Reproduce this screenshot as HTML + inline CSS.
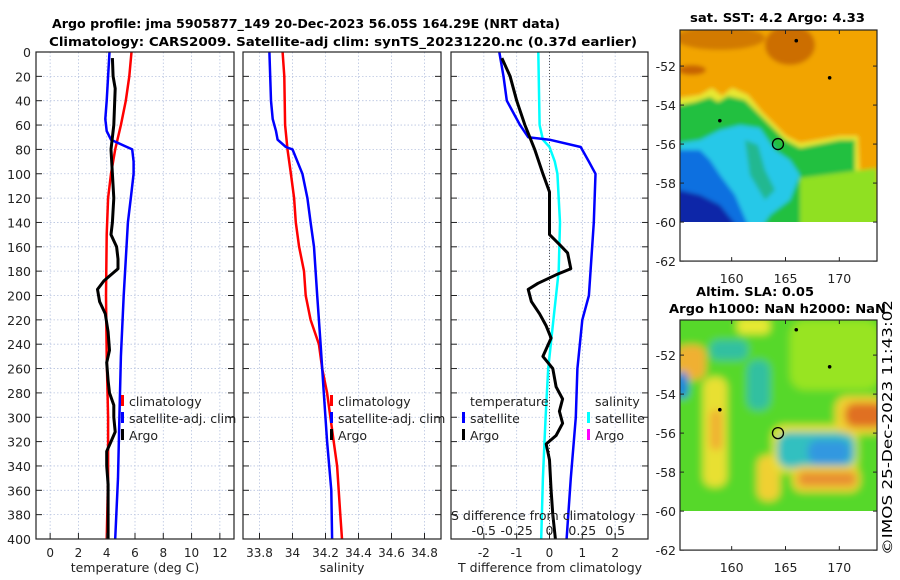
<!DOCTYPE html>
<html><head><meta charset="utf-8"><style>
html,body{margin:0;padding:0;background:#fff;}
svg{display:block;font-family:"DejaVu Sans","Liberation Sans",sans-serif;}
</style></head><body>
<svg id="fig" width="900" height="580" viewBox="0 0 900 580" xmlns="http://www.w3.org/2000/svg">
<defs>
<filter id="blur1" x="-5%" y="-5%" width="110%" height="110%"><feGaussianBlur stdDeviation="2"/></filter>
<filter id="blur2" x="-5%" y="-5%" width="110%" height="110%"><feGaussianBlur stdDeviation="4"/></filter>
<clipPath id="clipm1"><rect x="680" y="30" width="197" height="192"/></clipPath>
<clipPath id="clipm2"><rect x="680" y="320" width="197" height="191"/></clipPath>
</defs>
<text x="52" y="28" font-size="12.5" font-weight="bold" textLength="508" lengthAdjust="spacingAndGlyphs">Argo profile: jma 5905877_149 20-Dec-2023 56.05S 164.29E (NRT data)</text>
<text x="49" y="46" font-size="12.5" font-weight="bold" textLength="588" lengthAdjust="spacingAndGlyphs">Climatology: CARS2009. Satellite-adj clim: synTS_20231220.nc (0.37d earlier)</text>

<!-- map 1 -->
<text x="690" y="22" font-size="12.5" font-weight="bold" textLength="175" lengthAdjust="spacingAndGlyphs">sat. SST: 4.2 Argo: 4.33</text>
<g clip-path="url(#clipm1)">
<g filter="url(#blur1)">
<rect x="670" y="20" width="220" height="210" fill="#f2a400"/>
<ellipse cx="720" cy="38" rx="45" ry="12" fill="#d27a00"/>
<ellipse cx="790" cy="45" rx="25" ry="20" fill="#cc6e00"/>
<ellipse cx="692" cy="70" rx="14" ry="5" fill="#c86400"/>
<path d="M680,98 L700,95 L712,88 L722,96 L732,88 L748,95 L762,112 L772,122 L786,136 L800,143 L840,136 L858,136 L860,178 L832,198 L800,204 L800,230 L670,230 L670,98Z" fill="#e8e830"/>
<path d="M680,105 L695,102 L710,97 L718,102 L728,96 L745,100 L760,115 L770,125 L785,140 L800,148 L840,140 L855,140 L855,175 L830,195 L800,200 L800,230 L670,230 L670,105Z" fill="#20c040"/>
<path d="M800,178 L877,168 L880,230 L800,230Z" fill="#90e020"/>
<path d="M680,143 L700,140 L720,130 L740,125 L760,128 L775,150 L790,160 L800,175 L790,200 L770,215 L760,230 L670,230Z" fill="#28c8e8"/>
<path d="M745,140 L758,145 L765,170 L775,190 L765,200 L750,175Z" fill="#20b890"/>
<path d="M670,150 L700,150 L710,160 L720,175 L735,195 L750,230 L670,230Z" fill="#1070e0"/>
<path d="M670,188 L700,195 L720,205 L740,230 L670,230Z" fill="#0a28a8"/>
</g>
</g>
<rect x="680" y="222" width="197" height="39" fill="#fff"/>
<g id="map1axes"></g>

<!-- map 2 -->
<text x="696" y="296" font-size="12.5" font-weight="bold" textLength="118" lengthAdjust="spacingAndGlyphs">Altim. SLA: 0.05</text>
<text x="669" y="313" font-size="12.5" font-weight="bold" textLength="217" lengthAdjust="spacingAndGlyphs">Argo h1000: NaN h2000: NaN</text>
<g clip-path="url(#clipm2)">
<g filter="url(#blur2)">
<rect x="670" y="310" width="220" height="210" fill="#56d82a"/>
<rect x="790" y="320" width="90" height="70" rx="15" fill="#98e424"/>
<rect x="737" y="318" width="33" height="16" rx="6" fill="#e8e830"/>
<rect x="710" y="340" width="38" height="20" rx="8" fill="#30c0a0"/>
<rect x="747" y="360" width="23" height="50" rx="10" fill="#30c0a0"/>
<rect x="676" y="345" width="30" height="35" rx="10" fill="#f0b030"/>
<rect x="676" y="372" width="12" height="26" rx="5" fill="#1080e0"/>
<rect x="703" y="377" width="24" height="110" rx="10" fill="#e8e030"/>
<rect x="710" y="410" width="12" height="40" rx="5" fill="#f0b030"/>
<rect x="757" y="455" width="23" height="46" rx="10" fill="#f0d030"/>
<rect x="772" y="425" width="86" height="48" rx="12" fill="#e8e030"/>
<rect x="777" y="432" width="78" height="36" rx="12" fill="#30c0c0"/>
<rect x="808" y="440" width="42" height="24" rx="10" fill="#3098e0"/>
<rect x="835" y="396" width="50" height="38" rx="12" fill="#f0d030"/>
<rect x="845" y="403" width="40" height="24" rx="10" fill="#e07020"/>
<rect x="792" y="466" width="68" height="26" rx="10" fill="#f0d030"/>
<rect x="798" y="472" width="58" height="14" rx="6" fill="#e89030"/>
</g>
</g>
<rect x="680" y="511" width="197" height="39" fill="#fff"/>
<g id="map2axes"></g>
<text transform="translate(892,555) rotate(-90)" font-size="13.5" textLength="255" lengthAdjust="spacingAndGlyphs">©IMOS 25-Dec-2023 11:43:02</text>

<g id="panels"></g>
</svg>
<script>
// ---- data ----
const depthTicks = [0,20,40,60,80,100,120,140,160,180,200,220,240,260,280,300,320,340,360,380,400];
const tTicks = [0,2,4,6,8,10,12];
const sTicks = [33.8,34,34.2,34.4,34.6,34.8];
const sTickLabels = ["33.8","34","34.2","34.4","34.6","34.8"];
const dTicks = [-2,-1,0,1,2];
const sdTicks = [-0.5,-0.25,0,0.25,0.5];
const sdTickLabels = ["-0.5","-0.25","0","0.25","0.5"];

const climTDepth = [0,20,40,60,80,100,120,150,200,250,300,350,400];
const climTValue = [5.75,5.6,5.35,5.0,4.6,4.3,4.1,4.0,3.95,4.0,4.1,4.1,4.0];
const satTDepth = [0,40,55,65,72,80,90,100,120,140,160,200,250,300,350,400];
const satTValue = [4.2,4.0,3.9,4.0,4.3,5.8,5.9,5.9,5.7,5.5,5.4,5.2,5.0,4.9,4.8,4.6];
const argoTDepth = [5,20,30,60,80,100,120,140,150,155,160,170,178,183,188,195,205,215,230,245,255,270,280,290,300,312,320,328,340,355,370,400];
const argoTValue = [4.4,4.45,4.6,4.5,4.3,4.4,4.5,4.4,4.3,4.5,4.7,4.8,4.8,4.3,3.8,3.35,3.5,3.9,4.1,4.2,4.0,4.1,4.2,4.5,4.5,4.6,4.3,4.0,4.0,4.1,4.1,4.1];

const climSDepth = [0,20,60,80,100,120,140,160,180,200,220,240,260,280,300,320,340,360,380,400];
const climSValue = [33.94,33.95,33.955,33.97,33.99,34.01,34.02,34.04,34.07,34.08,34.11,34.16,34.18,34.21,34.23,34.25,34.27,34.28,34.29,34.3];
const satSDepth = [0,20,40,55,65,72,78,80,100,120,140,160,200,240,280,320,360,400];
const satSValue = [33.86,33.865,33.87,33.88,33.9,33.91,33.96,34.0,34.06,34.09,34.11,34.13,34.15,34.17,34.19,34.21,34.235,34.24];

const satDTDepth = [0,20,40,50,60,70,72,78,90,100,140,200,220,260,300,350,400];
const satDTValue = [-1.53,-1.4,-1.3,-1.1,-0.9,-0.65,0,0.95,1.2,1.4,1.35,1.2,1.0,0.85,0.8,0.65,0.52];
const argoDTDepth = [5,20,40,60,80,100,115,130,150,158,165,178,183,190,195,205,215,225,235,250,260,275,285,295,305,315,322,335,360,380,400];
const argoDTValue = [-1.45,-1.2,-1.0,-0.75,-0.45,-0.2,0,0,0,0.3,0.55,0.65,0.2,-0.35,-0.65,-0.55,-0.3,-0.1,0.05,-0.2,0.1,0.2,0.4,0.3,0.4,0.2,-0.1,0.0,0.05,0.1,0.18];
const satDSDepth = [0,60,72,78,90,100,140,180,220,260,300,350,400];
const satDSValue = [-0.085,-0.075,-0.05,0,0.04,0.06,0.08,0.07,0.03,-0.01,-0.03,-0.05,-0.063];

const mapLonTicks = [160,165,170];
const mapLatTicks = [-52,-54,-56,-58,-60,-62];
const floatLon = [164.3];
const floatLat = [-56.0];
const islandLon = [166.0,169.1,158.9];
const islandLat = [-50.7,-52.6,-54.8];

// ---- helpers ----
const NS = "http://www.w3.org/2000/svg";
const root = document.getElementById('panels');
function mk(tag, attrs, parent){const e=document.createElementNS(NS,tag);for(const k in attrs)e.setAttribute(k,attrs[k]);(parent||root).appendChild(e);return e;}
const TOP=52, BOT=539;
function yD(d){return TOP+(d/400)*(BOT-TOP);}
function lin(d0,d1,r0,r1){return v=>r0+(v-d0)/(d1-d0)*(r1-r0);}

function panel(name){
  const g=mk('g',{});
  
  
  return g;
}
function grid(g,x0,x1,xs,xt){
  xt.forEach(v=>{const x=xs(v);const l=mk('line',{x1:x,x2:x,y1:TOP,y2:BOT,stroke:'#b8c4e0','stroke-width':0.8,'stroke-dasharray':'1.5,2'},g);
    });
  depthTicks.forEach(d=>{const y=yD(d);const l=mk('line',{x1:x0,x2:x1,y1:y,y2:y,stroke:'#b8c4e0','stroke-width':0.8,'stroke-dasharray':'1.5,2'},g);
    
    mk('line',{x1:x0,x2:x0+6,y1:y,y2:y,stroke:'#222'},g);mk('line',{x1:x1,x2:x1-6,y1:y,y2:y,stroke:'#222'},g);});
}
function frame(g,x0,x1){const r=mk('rect',{x:x0,y:TOP,width:x1-x0,height:BOT-TOP,fill:'none',stroke:'#222','stroke-width':1.2},g);
  }
function line(g,xs,depths,vals,color,w,name){
  const pts=depths.map((d,i)=>xs(vals[i]).toFixed(1)+','+yD(d).toFixed(1)).join(' ');
  const p=mk('polyline',{points:pts,fill:'none',stroke:color,'stroke-width':w,'stroke-linejoin':'round'},g);
  
}
function xlabels(g,xs,vals,labels,y){vals.forEach((v,i)=>{const t=mk('text',{x:xs(v),y:y,'text-anchor':'middle','font-size':12,fill:'#222'},g);t.textContent=labels?labels[i]:String(v);
  
  mk('line',{x1:xs(v),x2:xs(v),y1:BOT,y2:BOT-6,stroke:'#222'},g);});}
function text(g,x,y,s,name,anchor,size){const t=mk('text',{x:x,y:y,'text-anchor':anchor||'start','font-size':size||12.5,fill:'#222'},g);t.textContent=s;
  return t;}
function legendMark(g,x,y,color,name){const r=mk('rect',{x:x,y:y-6,width:3,height:11,fill:color},g);
  }

// ---- panel 1: temperature ----
{
  const x0=36,x1=234,xs=lin(-1,13,x0,x1);
  const g=panel('temperature-panel');
  grid(g,x0,x1,xs,tTicks);
  line(g,xs,climTDepth,climTValue,'#ff0000',2.5,'climatology-temperature-line');
  line(g,xs,satTDepth,satTValue,'#0000ff',2.5,'satellite-temperature-line');
  line(g,xs,argoTDepth,argoTValue,'#000',3,'argo-temperature-line');
  frame(g,x0,x1);
  depthTicks.forEach(d=>{text(g,31,yD(d)+5,String(d),'depth-tick-label','end',12.5);});
  xlabels(g,xs,tTicks,null,557);
  text(g,135,572,'temperature (deg C)','x-axis-title-temperature','middle',12.5);
  legendMark(g,121,401,'#ff0000','legend-marker-climatology');text(g,129,406,'climatology','legend-climatology');
  legendMark(g,121,418,'#0000ff','legend-marker-satellite');text(g,129,423,'satellite-adj. clim','legend-satellite-adj');
  legendMark(g,121,435,'#000','legend-marker-argo');text(g,129,440,'Argo','legend-argo');
}
// ---- panel 2: salinity ----
{
  const x0=243,x1=441,xs=lin(33.7,34.9,x0,x1);
  const g=panel('salinity-panel');
  grid(g,x0,x1,xs,sTicks);
  line(g,xs,climSDepth,climSValue,'#ff0000',2.5,'climatology-salinity-line');
  line(g,xs,satSDepth,satSValue,'#0000ff',2.5,'satellite-salinity-line');
  frame(g,x0,x1);
  xlabels(g,xs,sTicks,sTickLabels,557);
  text(g,342,572,'salinity','x-axis-title-salinity','middle',12.5);
  legendMark(g,330,401,'#ff0000','legend-marker-climatology-2');text(g,338,406,'climatology','legend-climatology-2');
  legendMark(g,330,418,'#0000ff','legend-marker-satellite-2');text(g,338,423,'satellite-adj. clim','legend-satellite-adj-2');
  legendMark(g,330,435,'#000','legend-marker-argo-2');text(g,338,440,'Argo','legend-argo-2');
}
// ---- panel 3: differences ----
{
  const x0=451,x1=648,xs=lin(-3,3,x0,x1),xsS=lin(-0.75,0.75,x0,x1);
  const g=panel('difference-panel');
  mk('rect',{x:x0,y:TOP,width:x1-x0,height:BOT-TOP,fill:'#fff'},g);
  grid(g,x0,x1,xs,dTicks);
  mk('line',{x1:xs(0),x2:xs(0),y1:TOP,y2:BOT,stroke:'#555','stroke-width':1,'stroke-dasharray':'1,2'},g);
  line(g,xsS,satDSDepth,satDSValue,'#00ffff',2.5,'satellite-salinity-difference-line');
  line(g,xs,satDTDepth,satDTValue,'#0000ff',2.5,'satellite-temperature-difference-line');
  line(g,xs,argoDTDepth,argoDTValue,'#000',3,'argo-temperature-difference-line');
  frame(g,x0,x1);
  xlabels(g,xs,dTicks,null,557);
  text(g,550,572,'T difference from climatology','x-axis-title-t-difference','middle',12.5);
  text(g,451,520,'S difference from climatology','s-difference-axis-title','start',12.5);
  sdTicks.forEach((v,i)=>{text(g,xsS(v),535,sdTickLabels[i],'s-difference-tick-label','middle',12.5);});
  text(g,470,406,'temperature','legend-temperature-header');
  legendMark(g,462,418,'#0000ff','legend-marker-t-satellite');text(g,470,423,'satellite','legend-t-satellite');
  legendMark(g,462,435,'#000','legend-marker-t-argo');text(g,470,440,'Argo','legend-t-argo');
  text(g,595,406,'salinity','legend-salinity-header');
  legendMark(g,587,418,'#00ffff','legend-marker-s-satellite');text(g,595,423,'satellite','legend-s-satellite');
  legendMark(g,587,435,'#ff00ff','legend-marker-s-argo');text(g,595,440,'Argo','legend-s-argo');
}
// ---- map axes ----
function mapAxes(id,top,latTop){
  const g=document.getElementById(id);
  const x0=680,x1=877,xs=lin(155.2,173.5,x0,x1);
  const yl=v=>top+(latTop-v)*19.5;
  mk('rect',{x:x0,y:top,width:x1-x0,height:yl(-62)-top,fill:'none',stroke:'#222','stroke-width':1.2},g);
  mapLatTicks.forEach(v=>{const y=yl(v);mk('line',{x1:x1,x2:x1-4,y1:y,y2:y,stroke:'#222'},g);mk('line',{x1:x0,x2:x0+4,y1:y,y2:y,stroke:'#222'},g);
    text(g,676,y+5,String(v),'map-lat-tick-label','end',12.5);});
  mapLonTicks.forEach(v=>{const x=xs(v);mk('line',{x1:x,x2:x,y1:yl(-62),y2:yl(-62)-4,stroke:'#222'},g);mk('line',{x1:x,x2:x,y1:top,y2:top+4,stroke:'#222'},g);
    text(g,x,yl(-62)+22,String(v),'map-lon-tick-label','middle',12.5);});
  islandLon.forEach((v,i)=>{const c=mk('circle',{cx:xs(v),cy:yl(islandLat[i]),r:1.8,fill:'#000'},g);
    });
  floatLon.forEach((v,i)=>{const c=mk('circle',{cx:xs(v),cy:yl(floatLat[i]),r:5.5,fill:'none',stroke:'#000','stroke-width':1.3},g);
    });
}
mapAxes('map1axes',30,-50.15);
mapAxes('map2axes',320,-50.2);
</script>
</body></html>
